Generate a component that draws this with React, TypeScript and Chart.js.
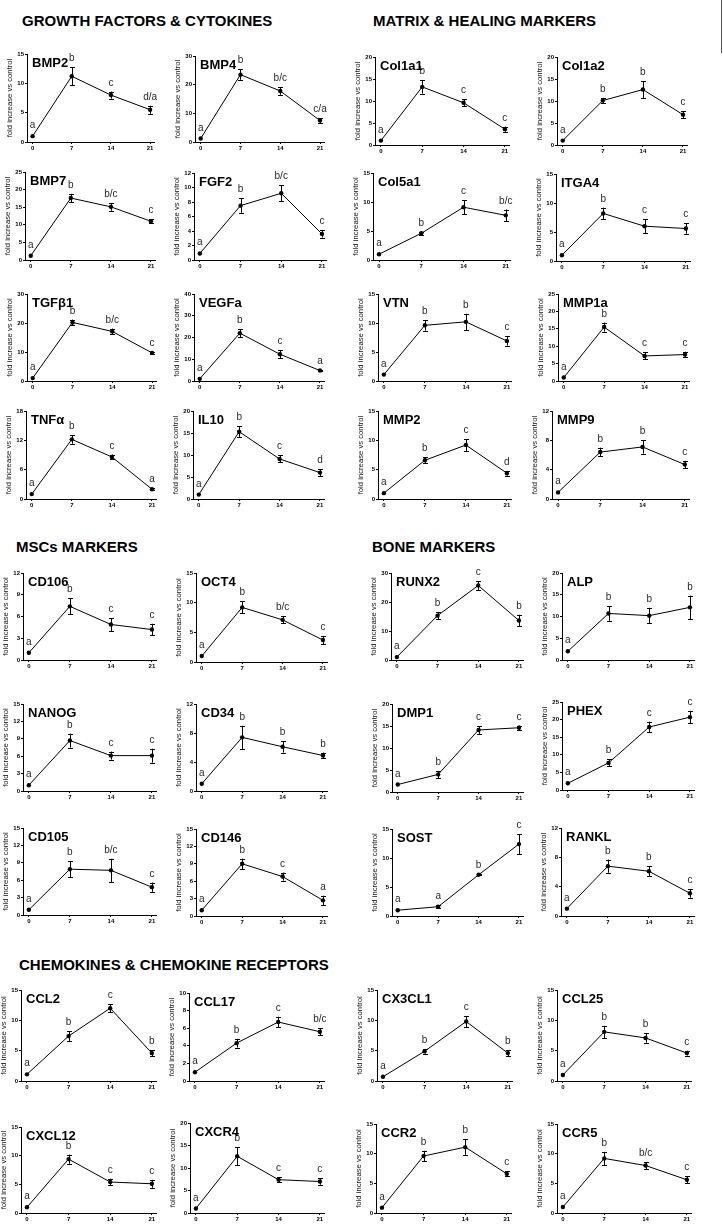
import React, { useEffect, useRef } from "react";
import { Chart, registerables } from "chart.js";
Chart.register(...registerables);

// ---------- DATA ----------
const days = [0, 7, 14, 21];
const yTitle = "fold increase vs control";

const bmp2 = [1.0, 11.2, 8.0, 5.5];
const bmp2Err = [0, 1.5, 0.6, 0.7];
const bmp2Sig = ["a", "b", "c", "d/a"];
const bmp4 = [1.2, 23.5, 17.8, 7.5];
const bmp4Err = [0, 1.8, 1.3, 0.8];
const bmp4Sig = ["a", "b", "b/c", "c/a"];
const bmp7 = [1.2, 17.6, 15.1, 11.0];
const bmp7Err = [0, 1.2, 1.1, 0.6];
const bmp7Sig = ["a", "b", "b/c", "c"];
const fgf2 = [0.9, 7.5, 9.2, 3.6];
const fgf2Err = [0, 1.0, 1.1, 0.5];
const fgf2Sig = ["a", "b", "b/c", "c"];
const tgfb1 = [1.0, 20.2, 17.1, 9.7];
const tgfb1Err = [0, 1.0, 1.0, 0.3];
const tgfb1Sig = ["a", "b", "b/c", "c"];
const vegfa = [1.0, 22.0, 12.3, 4.8];
const vegfaErr = [0, 1.8, 1.8, 0.3];
const vegfaSig = ["a", "b", "c", "a"];
const tnfa = [1.0, 12.2, 8.6, 2.0];
const tnfaErr = [0, 0.9, 0.5, 0.2];
const tnfaSig = ["a", "b", "c", "a"];
const il10 = [1.0, 15.3, 9.1, 6.0];
const il10Err = [0, 1.3, 0.8, 0.8];
const il10Sig = ["a", "b", "c", "d"];

const col1a1 = [1.0, 13.2, 9.6, 3.6];
const col1a1Err = [0, 1.5, 0.8, 0.6];
const col1a1Sig = ["a", "b", "c", "c"];
const col1a2 = [1.0, 10.1, 12.6, 6.9];
const col1a2Err = [0, 0.6, 1.9, 0.8];
const col1a2Sig = ["a", "b", "b", "c"];
const col5a1 = [1.0, 4.6, 9.1, 7.7];
const col5a1Err = [0, 0.3, 1.2, 1.0];
const col5a1Sig = ["a", "b", "c", "b/c"];
const itga4 = [1.0, 8.2, 6.0, 5.6];
const itga4Err = [0, 1.0, 1.2, 0.9];
const itga4Sig = ["a", "b", "c", "c"];
const vtn = [1.1, 9.6, 10.2, 6.9];
const vtnErr = [0, 0.9, 1.4, 0.8];
const vtnSig = ["a", "b", "b", "c"];
const mmp1a = [1.0, 15.5, 7.2, 7.6];
const mmp1aErr = [0, 1.3, 1.0, 0.8];
const mmp1aSig = ["a", "b", "c", "c"];
const mmp2 = [1.0, 6.6, 9.2, 4.4];
const mmp2Err = [0, 0.5, 1.0, 0.4];
const mmp2Sig = ["a", "b", "c", "d"];
const mmp9 = [0.9, 6.4, 7.1, 4.7];
const mmp9Err = [0, 0.6, 0.9, 0.5];
const mmp9Sig = ["a", "b", "b", "c"];

const cd106 = [1.0, 7.4, 4.9, 4.2];
const cd106Err = [0, 1.1, 0.9, 0.8];
const cd106Sig = ["a", "b", "c", "c"];
const oct4 = [1.0, 9.2, 7.1, 3.7];
const oct4Err = [0, 1.0, 0.6, 0.7];
const oct4Sig = ["a", "b", "b/c", "c"];
const nanog = [1.0, 8.7, 6.1, 6.1];
const nanogErr = [0, 1.2, 0.7, 1.2];
const nanogSig = ["a", "b", "c", "c"];
const cd34 = [1.0, 7.4, 6.1, 4.9];
const cd34Err = [0, 1.6, 0.8, 0.4];
const cd34Sig = ["a", "b", "b", "b"];
const cd105 = [0.9, 7.9, 7.7, 4.8];
const cd105Err = [0, 1.4, 2.0, 0.8];
const cd105Sig = ["a", "b", "b/c", "c"];
const cd146 = [1.0, 9.0, 6.8, 2.7];
const cd146Err = [0, 0.9, 0.7, 0.8];
const cd146Sig = ["a", "b", "c", "a"];

const runx2 = [1.0, 15.3, 25.7, 13.6];
const runx2Err = [0, 1.2, 1.5, 2.0];
const runx2Sig = ["a", "b", "c", "b"];
const alp = [2.0, 10.7, 10.2, 12.1];
const alpErr = [0, 1.7, 1.8, 2.7];
const alpSig = ["a", "b", "b", "b"];
const dmp1 = [1.7, 4.0, 14.1, 14.6];
const dmp1Err = [0, 0.8, 0.9, 0.5];
const dmp1Sig = ["a", "b", "c", "c"];
const phex = [1.9, 7.7, 17.9, 20.7];
const phexErr = [0, 1.0, 1.5, 1.8];
const phexSig = ["a", "b", "c", "c"];
const sost = [1.0, 1.6, 7.1, 12.4];
const sostErr = [0, 0.3, 0.1, 1.7];
const sostSig = ["a", "a", "b", "c"];
const rankl = [1.0, 6.8, 6.1, 3.1];
const ranklErr = [0, 0.9, 0.7, 0.6];
const ranklSig = ["a", "b", "b", "c"];

const ccl2 = [1.1, 7.4, 12.0, 4.6];
const ccl2Err = [0, 0.8, 0.7, 0.5];
const ccl2Sig = ["a", "b", "c", "b"];
const ccl17 = [1.0, 4.3, 6.7, 5.6];
const ccl17Err = [0, 0.5, 0.6, 0.4];
const ccl17Sig = ["a", "b", "c", "b/c"];
const cx3cl1 = [0.7, 4.9, 9.8, 4.6];
const cx3cl1Err = [0, 0.4, 0.9, 0.5];
const cx3cl1Sig = ["a", "b", "c", "b"];
const ccl25 = [1.0, 8.1, 7.1, 4.6];
const ccl25Err = [0, 1.0, 0.8, 0.4];
const ccl25Sig = ["a", "b", "b", "c"];
const cxcl12 = [1.0, 9.4, 5.4, 5.1];
const cxcl12Err = [0, 0.8, 0.6, 0.7];
const cxcl12Sig = ["a", "b", "c", "c"];
const cxcr4 = [1.0, 12.6, 7.4, 7.0];
const cxcr4Err = [0, 2.0, 0.5, 0.7];
const cxcr4Sig = ["a", "b", "c", "c"];
const ccr2 = [0.9, 9.6, 11.1, 6.6];
const ccr2Err = [0, 0.9, 1.3, 0.4];
const ccr2Sig = ["a", "b", "b", "c"];
const ccr5 = [1.0, 9.2, 8.0, 5.6];
const ccr5Err = [0, 1.1, 0.6, 0.6];
const ccr5Sig = ["a", "b", "b/c", "c"];

// name, mean, err, letters, y max, y step
const genes: [string, number[], number[], string[], number, number][] = [
  ["BMP2", bmp2, bmp2Err, bmp2Sig, 15, 5],
  ["BMP4", bmp4, bmp4Err, bmp4Sig, 30, 10],
  ["Col1a1", col1a1, col1a1Err, col1a1Sig, 20, 5],
  ["Col1a2", col1a2, col1a2Err, col1a2Sig, 20, 5],
  ["BMP7", bmp7, bmp7Err, bmp7Sig, 25, 5],
  ["FGF2", fgf2, fgf2Err, fgf2Sig, 12, 2],
  ["Col5a1", col5a1, col5a1Err, col5a1Sig, 15, 5],
  ["ITGA4", itga4, itga4Err, itga4Sig, 15, 5],
  ["TGF\u03B21", tgfb1, tgfb1Err, tgfb1Sig, 30, 10],
  ["VEGFa", vegfa, vegfaErr, vegfaSig, 40, 10],
  ["VTN", vtn, vtnErr, vtnSig, 15, 5],
  ["MMP1a", mmp1a, mmp1aErr, mmp1aSig, 25, 5],
  ["TNF\u03B1", tnfa, tnfaErr, tnfaSig, 18, 6],
  ["IL10", il10, il10Err, il10Sig, 20, 5],
  ["MMP2", mmp2, mmp2Err, mmp2Sig, 15, 5],
  ["MMP9", mmp9, mmp9Err, mmp9Sig, 12, 4],
  ["CD106", cd106, cd106Err, cd106Sig, 12, 3],
  ["OCT4", oct4, oct4Err, oct4Sig, 15, 5],
  ["RUNX2", runx2, runx2Err, runx2Sig, 30, 10],
  ["ALP", alp, alpErr, alpSig, 20, 5],
  ["NANOG", nanog, nanogErr, nanogSig, 15, 3],
  ["CD34", cd34, cd34Err, cd34Sig, 12, 4],
  ["DMP1", dmp1, dmp1Err, dmp1Sig, 20, 5],
  ["PHEX", phex, phexErr, phexSig, 25, 5],
  ["CD105", cd105, cd105Err, cd105Sig, 15, 3],
  ["CD146", cd146, cd146Err, cd146Sig, 15, 3],
  ["SOST", sost, sostErr, sostSig, 15, 5],
  ["RANKL", rankl, ranklErr, ranklSig, 12, 4],
  ["CCL2", ccl2, ccl2Err, ccl2Sig, 15, 5],
  ["CCL17", ccl17, ccl17Err, ccl17Sig, 10, 2],
  ["CX3CL1", cx3cl1, cx3cl1Err, cx3cl1Sig, 15, 5],
  ["CCL25", ccl25, ccl25Err, ccl25Sig, 15, 5],
  ["CXCL12", cxcl12, cxcl12Err, cxcl12Sig, 15, 5],
  ["CXCR4", cxcr4, cxcr4Err, cxcr4Sig, 20, 5],
  ["CCR2", ccr2, ccr2Err, ccr2Sig, 15, 5],
  ["CCR5", ccr5, ccr5Err, ccr5Sig, 15, 5],
];

const sections = [
  "GROWTH FACTORS & CYTOKINES",
  "MATRIX & HEALING MARKERS",
  "MSCs MARKERS",
  "BONE MARKERS",
  "CHEMOKINES & CHEMOKINE RECEPTORS",
];

// ---------- LAYOUT (page pixels): axis x, axis end x, top y, zero y ----------
const boxes: number[][] = [
  [27, 154, 54, 142], [195, 324, 56, 142], [375, 509, 57, 145], [557, 687, 57, 145],
  [25, 155, 172, 260], [194, 326, 173, 260], [373, 510, 173, 260], [556, 690, 174, 261],
  [27, 156, 294, 381], [194, 324, 294, 381], [378, 511, 294, 381], [558, 689, 294, 381],
  [26, 156, 411, 499], [193, 324, 411, 499], [378, 511, 411, 499], [552, 689, 411, 499],
  [23, 156, 573, 660], [196, 327, 573, 662], [391, 523, 573, 660], [562, 694, 573, 660],
  [23, 156, 704, 791], [196, 327, 704, 791], [392, 523, 704, 792], [562, 694, 702, 790],
  [23, 156, 828, 915], [196, 327, 829, 916], [392, 523, 829, 916], [561, 694, 828, 916],
  [21, 156, 990, 1081], [189, 324, 993, 1081], [377, 512, 990, 1081], [557, 691, 990, 1081],
  [21, 156, 1127, 1213], [190, 324, 1123, 1213], [376, 511, 1124, 1213], [557, 691, 1124, 1213],
];
const headPos: number[][] = [
  [22, 26], [373, 26], [16, 552], [372, 552], [19, 970],
];

const FONT = "'Liberation Sans', Arial, Helvetica, sans-serif";
const YW = 22;
const XH = 14;
const PT = 14;
const PR = 5;

function Panel({ idx }: { idx: number }) {
  const ref = useRef<HTMLCanvasElement>(null);
  const [name, mean, err, sig, ymax, ystep] = genes[idx];
  const [ax, xr, yt, yb] = boxes[idx];
  const w = xr - ax + YW + PR;
  const h = yb - yt + PT + XH;

  useEffect(() => {
    if (!ref.current) return;
    const extras = {
      id: "extras" + idx,
      afterDatasetsDraw(chart: any) {
        const c = chart.ctx;
        const xs = chart.scales.x;
        const ys = chart.scales.y;
        c.save();
        c.strokeStyle = "#000";
        c.lineWidth = 1;
        days.forEach((d, i) => {
          const px = Math.round(xs.getPixelForValue(d)) + 0.5;
          if (err[i] > 0) {
            const y1 = ys.getPixelForValue(mean[i] + err[i]);
            const y2 = ys.getPixelForValue(mean[i] - err[i]);
            c.beginPath();
            c.moveTo(px, y1);
            c.lineTo(px, y2);
            c.moveTo(px - 2.5, Math.round(y1) + 0.5);
            c.lineTo(px + 2.5, Math.round(y1) + 0.5);
            c.moveTo(px - 2.5, Math.round(y2) + 0.5);
            c.lineTo(px + 2.5, Math.round(y2) + 0.5);
            c.stroke();
          }
        });
        c.fillStyle = "#2a2a2a";
        c.font = `10px ${FONT}`;
        c.textAlign = "center";
        c.textBaseline = "alphabetic";
        days.forEach((d, i) => {
          const px = xs.getPixelForValue(d);
          const top = ys.getPixelForValue(mean[i] + err[i]);
          c.fillText(sig[i], px, top - (err[i] > 0 ? 6 : 8));
        });
        c.fillStyle = "#000";
        c.font = `bold 13px ${FONT}`;
        c.textAlign = "left";
        c.fillText(name, chart.chartArea.left + 5, chart.chartArea.top + 12.5);
        c.restore();
      },
    };
    const chart = new Chart(ref.current, {
      type: "line",
      data: {
        datasets: [
          {
            data: days.map((d, i) => ({ x: d, y: mean[i] })),
            borderColor: "#000",
            borderWidth: 1,
            pointRadius: 2.2,
            pointBackgroundColor: "#000",
            pointBorderWidth: 0,
            tension: 0,
          },
        ],
      },
      options: {
        responsive: false,
        animation: false,
        devicePixelRatio: 1,
        layout: { padding: { top: PT, right: PR, left: 0, bottom: 0 } },
        plugins: { legend: { display: false }, tooltip: { enabled: false } },
        scales: {
          x: {
            type: "linear",
            min: -1,
            max: 21.7,
            afterBuildTicks: (s: any) => {
              s.ticks = days.map((v) => ({ value: v }));
            },
            afterFit: (s: any) => {
              s.height = XH;
            },
            grid: { display: true, drawOnChartArea: false, drawTicks: true, tickLength: 2, color: "#000" },
            border: { display: true, color: "#000", width: 1 },
            ticks: {
              color: "#000",
              padding: 1,
              maxRotation: 0,
              autoSkip: false,
              font: { family: FONT, size: 6, weight: "bold" },
              callback: (v: any) => String(v),
            },
          },
          y: {
            min: 0,
            max: ymax,
            afterFit: (s: any) => {
              s.width = YW;
            },
            grid: { display: true, drawOnChartArea: false, drawTicks: true, tickLength: 2, color: "#000" },
            border: { display: true, color: "#000", width: 1 },
            ticks: {
              stepSize: ystep,
              color: "#000",
              padding: 1,
              font: { family: FONT, size: 6, weight: "bold" },
            },
            title: {
              display: true,
              text: yTitle,
              color: "#111",
              padding: 0,
              font: { family: FONT, size: 7.7 },
            },
          },
        },
      },
      plugins: [extras],
    } as any);
    return () => chart.destroy();
  }, [idx]);

  return (
    <canvas
      ref={ref}
      width={w}
      height={h}
      style={{ position: "absolute", left: ax - YW, top: yt - PT, width: w, height: h }}
    />
  );
}

export default function App() {
  return (
    <div
      style={{
        position: "absolute",
        left: 0,
        top: 0,
        width: 723,
        height: 1224,
        background: "#fff",
        overflow: "hidden",
        fontFamily: FONT,
      }}
    >
      {sections.map((s, i) => (
        <div
          key={s}
          style={{
            position: "absolute",
            left: headPos[i][0],
            top: headPos[i][1] - 14,
            fontSize: 15,
            fontWeight: "bold",
            lineHeight: "17px",
            whiteSpace: "nowrap",
            color: "#000",
          }}
        >
          {s}
        </div>
      ))}
      <div style={{ position: "absolute", left: 721, top: 0, width: 1, height: 53, background: "#555" }} />
      {genes.map((g, i) => (
        <Panel key={g[0]} idx={i} />
      ))}
    </div>
  );
}
